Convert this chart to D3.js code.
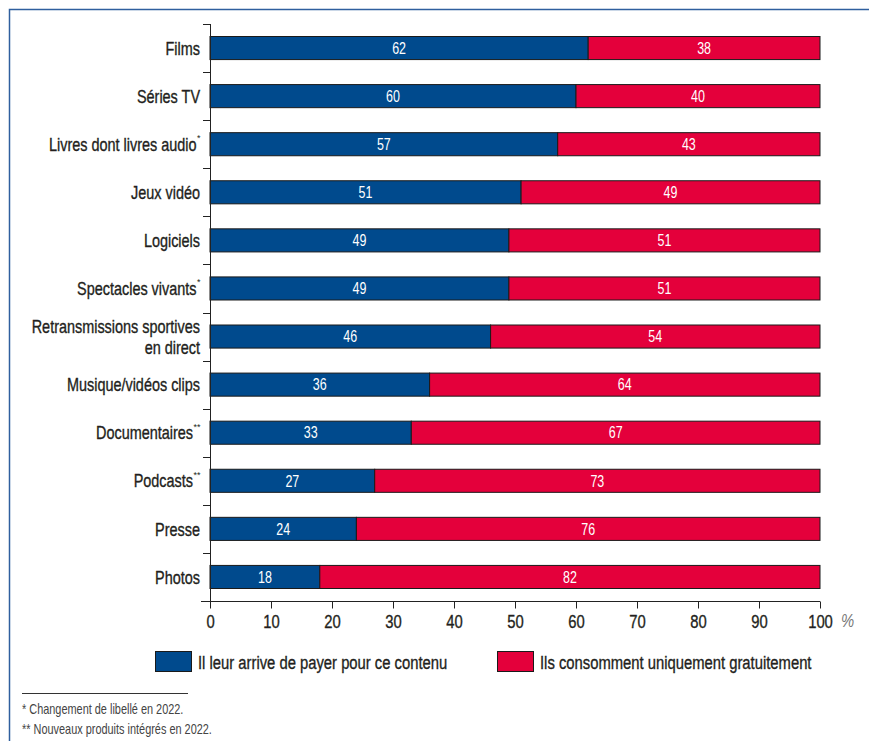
<!DOCTYPE html>
<html>
<head>
<meta charset="utf-8">
<script src="https://cdn.jsdelivr.net/npm/d3@7"></script>
<style>
  body { margin: 0; background: #fff; }
  text { font-family: "Liberation Sans", Arial, sans-serif; }
</style>
</head>
<body>
<div id="chart"></div>
<script>
// data
var categories = ["Films", "Séries TV", "Livres dont livres audio", "Jeux vidéo", "Logiciels",
  "Spectacles vivants", "Retransmissions sportives|en direct", "Musique/vidéos clips",
  "Documentaires", "Podcasts", "Presse", "Photos"];
var marks = ["", "", "*", "", "", "*", "", "", "**", "**", "", ""];
var paid = [62, 60, 57, 51, 49, 49, 46, 36, 33, 27, 24, 18];
var free = [38, 40, 43, 49, 51, 51, 54, 64, 67, 73, 76, 82];
var seriesNames = ["Il leur arrive de payer pour ce contenu", "Ils consomment uniquement gratuitement"];
var ticks = [0, 10, 20, 30, 40, 50, 60, 70, 80, 90, 100];
var notes = ["* Changement de libellé en 2022.", "** Nouveaux produits intégrés en 2022."];

var width = 869, height = 741;
var colors = ["#004a8d", "#e4003b"];
var ink = "#231f20";
var SX = 0.78; // condensed look

var svg = d3.select("#chart").append("svg")
  .attr("width", width).attr("height", height);

// squeezes a text horizontally around its anchor point
function cond(sel, x, y, sx) {
  return sel.attr("transform", "translate(" + x + "," + y + ") scale(" + (sx || SX) + ",1)");
}
function heavy(sel, c) {
  return sel.attr("stroke", c || ink).attr("stroke-width", 0.35);
}

// frame
svg.append("path")
  .attr("d", "M9.5," + height + "V9.5H" + width)
  .attr("fill", "none").attr("stroke", "#2f5f9e").attr("stroke-width", 1.5);

var x = d3.scaleLinear().domain([0, 100]).range([210, 820]);
var y = d3.scaleBand().domain(categories).range([24, 601]).paddingInner(0.52).paddingOuter(0.26);

var rows = categories.map(function(c, i) { return {cat: c, vals: [paid[i], free[i]], mark: marks[i]}; });

var stack = d3.stack().keys([0, 1]).value(function(d, k) { return d.vals[k]; })(rows);

var layer = svg.selectAll("g.layer").data(stack).enter().append("g")
  .attr("class", "layer").attr("fill", function(d, i) { return colors[i]; });

layer.selectAll("rect").data(function(d) { return d; }).enter().append("rect")
  .attr("x", function(d) { return x(d[0]); })
  .attr("y", function(d) { return y(d.data.cat); })
  .attr("width", function(d) { return x(d[1]) - x(d[0]); })
  .attr("height", y.bandwidth())
  .attr("stroke", "#1a1a1a").attr("stroke-width", 1);

layer.selectAll("text").data(function(d) { return d; }).enter().append("text")
  .each(function(d) {
    cond(d3.select(this), (x(d[0]) + x(d[1])) / 2, y(d.data.cat) + y.bandwidth() / 2);
  })
  .attr("dy", "0.36em").attr("text-anchor", "middle")
  .attr("fill", "#fff").attr("font-size", 16)
  .text(function(d) { return d[1] - d[0]; });

// y axis with ticks between categories
var yAxis = svg.append("g");
yAxis.append("line").attr("x1", 210.5).attr("x2", 210.5).attr("y1", 24).attr("y2", 601)
  .attr("stroke", "#222");
var step = y.step();
d3.range(categories.length).forEach(function(i) {
  var yy = Math.round(24 + i * step) + 0.5;
  yAxis.append("line").attr("x1", 203).attr("x2", 210).attr("y1", yy).attr("y2", yy).attr("stroke", "#222");
});

var labels = svg.append("g").attr("font-size", 18.5).attr("fill", ink).attr("text-anchor", "end");
rows.forEach(function(r) {
  var parts = r.cat.split("|");
  var cy = y(r.cat) + y.bandwidth() / 2;
  parts.forEach(function(p, j) {
    var last = j == parts.length - 1;
    var t = cond(labels.append("text"), last && r.mark ? 200 - r.mark.length * 3.5 : 200,
      cy + (j - (parts.length - 1) / 2) * 21)
      .attr("dy", "0.36em");
    heavy(t).text(p);
    if (r.mark && last) {
      labels.append("text").attr("text-anchor", "start").attr("font-size", 9)
        .attr("x", 200.5 - r.mark.length * 3.5).attr("y", cy - 3).text(r.mark);
    }
  });
});

// x axis
var xAxis = d3.axisBottom(x).tickValues(ticks).tickSize(7).tickSizeOuter(0);
var gx = svg.append("g").attr("transform", "translate(0,601.5)").call(xAxis);
gx.select(".domain").attr("d", "M201,0H820").attr("stroke", "#222");
gx.selectAll(".tick line").attr("stroke", "#222");
heavy(gx.selectAll(".tick text")).attr("font-size", 19).attr("fill", ink)
  .attr("y", null).attr("dy", null)
  .attr("transform", "translate(0,26.5) scale(" + SX + ",1)");
cond(svg.append("text"), 841, 627).attr("font-size", 19)
  .attr("fill", "#777").attr("font-style", "italic").text("%");

// legend
var legX = [155, 497];
seriesNames.forEach(function(n, i) {
  svg.append("rect").attr("x", legX[i] + 0.5).attr("y", 651.5).attr("width", 36).attr("height", 20)
    .attr("fill", colors[i]).attr("stroke", "#1a1a1a");
  heavy(cond(svg.append("text"), legX[i] + 43, 669)).attr("font-size", 19)
    .attr("fill", ink).text(n);
});

// footnotes
svg.append("line").attr("x1", 22).attr("x2", 188).attr("y1", 693.5).attr("y2", 693.5)
  .attr("stroke", "#333");
notes.forEach(function(n, i) {
  cond(svg.append("text"), 22, 714 + i * 20).attr("font-size", 14)
    .attr("fill", "#444").text(n);
});
</script>
</body>
</html>
